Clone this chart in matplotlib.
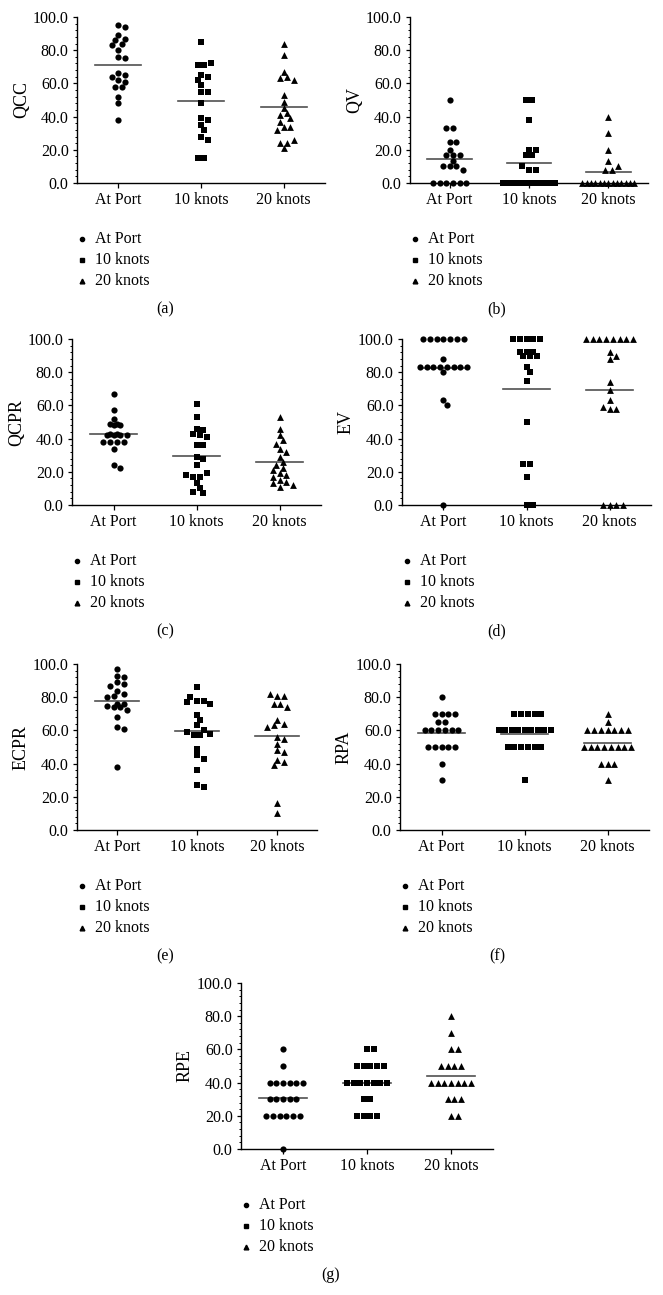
import numpy as np
import matplotlib
matplotlib.use("Agg")
import matplotlib.pyplot as plt
from matplotlib.lines import Line2D
from matplotlib.ticker import MultipleLocator, FormatStrFormatter

plt.rcParams["font.family"] = ["Liberation Serif", "DejaVu Serif"]

groups = ["At Port", "10 knots", "20 knots"]

# (a) QCC
qcc_port = [95, 94, 89, 86, 87, 83, 84, 80, 75, 76, 65, 64, 66, 61, 62, 58, 58, 52, 48, 38]
qcc_10 = [85, 71, 71, 72, 65, 62, 64, 59, 55, 55, 48, 38, 39, 35, 32, 28, 26, 15, 15]
qcc_20 = [84, 77, 67, 64, 62, 63, 53, 49, 45, 42, 41, 39, 37, 34, 34, 32, 26, 24, 24, 21]

# (b) QV
qv_port = [50, 33, 33, 25, 25, 20, 17, 17, 17, 13, 10, 10, 10, 8, 0, 0, 0, 0, 0, 0]
qv_10 = [50, 50, 38, 20, 20, 17, 17, 10, 8, 8, 0, 0, 0, 0, 0, 0, 0, 0, 0, 0]
qv_20 = [40, 30, 20, 13, 10, 8, 8, 0, 0, 0, 0, 0, 0, 0, 0, 0, 0, 0, 0, 0]

# (c) QCPR
qcpr_port = [67, 57, 49, 48, 48, 49, 52, 43, 42, 42, 43, 42, 42, 38, 38, 38, 38, 34, 24, 22]
qcpr_10 = [61, 53, 45, 46, 43, 41, 42, 36, 36, 29, 28, 24, 19, 18, 17, 17, 13, 10, 8, 7]
qcpr_20 = [53, 46, 42, 39, 37, 34, 32, 29, 26, 24, 22, 21, 19, 18, 17, 15, 14, 13, 12, 11]

# (d) EV
ev_port = [100] * 7 + [88] + [83] * 8 + [80, 63, 60, 0]
ev_10 = [100] * 5 + [92, 92, 92, 90, 90, 90, 83, 80, 75, 50, 25, 25, 17, 0, 0]
ev_20 = [100] * 8 + [90, 92, 88, 74, 69, 63, 58, 58, 59, 0, 0, 0, 0]

# (e) ECPR
ecpr_port = [97, 93, 92, 88, 87, 89, 84, 81, 82, 80, 76, 76, 75, 74, 74, 72, 68, 62, 61, 38]
ecpr_10 = [86, 78, 77, 76, 78, 80, 69, 66, 63, 60, 59, 57, 57, 58, 49, 45, 43, 36, 27, 26]
ecpr_20 = [81, 81, 82, 76, 76, 74, 66, 63, 62, 64, 56, 55, 52, 48, 47, 42, 41, 39, 16, 10]

# (f) RPA
rpa_port = [80] + [70] * 4 + [65] * 2 + [60] * 6 + [50] * 5 + [40, 30]
rpa_10 = [70] * 5 + [60] * 9 + [50] * 6 + [30]
rpa_20 = [70, 65] + [60] * 7 + [50] * 8 + [40] * 3 + [30]

# (g) RPE
rpe_port = [60, 50] + [40] * 6 + [30] * 5 + [20] * 6 + [0]
rpe_10 = [60] * 2 + [50] * 5 + [40] * 7 + [30] * 2 + [20] * 4
rpe_20 = [80, 70, 60, 60, 50, 50, 50, 50] + [40] * 7 + [30] * 3 + [20] * 2

markers = ["o", "s", "^"]
sizes = [20, 17, 24]
leg_sizes = [3.0, 3.2, 3.4]

# ylabel, series, left px, width px, top px, tag, tag x
panels = [
    ("QCC", [qcc_port, qcc_10, qcc_20], 77, 248, 17, "(a)", 165),
    ("QV", [qv_port, qv_10, qv_20], 410, 238, 17, "(b)", 497),
    ("QCPR", [qcpr_port, qcpr_10, qcpr_20], 72, 249, 339, "(c)", 165),
    ("EV", [ev_port, ev_10, ev_20], 402, 249, 339, "(d)", 497),
    ("ECPR", [ecpr_port, ecpr_10, ecpr_20], 77, 240, 664, "(e)", 165),
    ("RPA", [rpa_port, rpa_10, rpa_20], 400, 249, 664, "(f)", 497),
    ("RPE", [rpe_port, rpe_10, rpe_20], 241, 252, 983, "(g)", 331),
]

W, H = 663, 1295
AX_H = 166
FS = 11.5


def swarm(vals, ppu_x, ppu_y, d=6.7, max_half=26):
    # rows of equal values are spread centred (squeezed if long) and
    # nudged by half a step against each other, the rest go beeswarm-style
    vals = np.asarray(vals, float)
    y = vals * ppu_y
    offs = np.full(len(y), np.nan)
    placed = []
    lim = 0.8 * d
    shifts = [0.0]
    for k in range(1, 40):
        shifts += [k * d / 2, -k * d / 2]

    def gap(x, yy):
        if not placed:
            return np.inf
        return min(np.hypot(x - px, yy - py) for px, py in placed)

    uniq, counts = np.unique(vals, return_counts=True)
    for j in np.argsort(-counts, kind="stable"):
        v, n = uniq[j], counts[j]
        if n < 2:
            continue
        step = min(d, 2 * max_half / (n - 1))
        idx = np.where(vals == v)[0]
        base = [(k - (n - 1) / 2) * step for k in range(n)]
        best = max([0.0, step / 2, -step / 2],
                   key=lambda s: min(gap(b + s, v * ppu_y) for b in base) - abs(s) * 0.01)
        for i, b in zip(idx, base):
            offs[i] = b + best
            placed.append((offs[i], y[i]))
    for i in np.argsort(-y, kind="stable"):
        if not np.isnan(offs[i]):
            continue
        for c in shifts:
            if gap(c, y[i]) >= lim:
                break
        placed.append((c, y[i]))
        offs[i] = c
    return offs / ppu_x


fig = plt.figure(figsize=(W / 100, H / 100), dpi=100)

for ylab, series, left, width, top, tag, tag_x in panels:
    ax = fig.add_axes([left / W, 1 - (top + AX_H) / H, width / W, AX_H / H])
    for i, vals in enumerate(series):
        xo = swarm(vals, width / 3, AX_H / 100)
        ax.scatter(i + xo, vals, marker=markers[i], s=sizes[i], c="black",
                   linewidths=0, clip_on=False, zorder=3)
        m = np.mean(vals)
        ax.plot([i - 0.28, i + 0.28], [m, m], color="#505050", lw=1.2, zorder=2)

    ax.set_xlim(-0.5, 2.5)
    ax.set_ylim(0, 100)
    ax.set_xticks(range(3))
    ax.set_xticklabels(groups, fontsize=FS)
    ax.yaxis.set_major_locator(MultipleLocator(20))
    ax.yaxis.set_minor_locator(MultipleLocator(4))
    ax.yaxis.set_major_formatter(FormatStrFormatter("%.1f"))
    for t in ax.get_yticklabels():
        t.set_fontsize(FS)
    ax.tick_params(axis="y", which="major", length=3, width=0.9, pad=3)
    ax.tick_params(axis="y", which="minor", length=1.6, width=0.7)
    ax.tick_params(axis="x", length=3.5, width=0.9, pad=3)
    ax.set_ylabel(ylab, fontsize=13, labelpad=2)
    for side in ["top", "right"]:
        ax.spines[side].set_visible(False)
    for side in ["left", "bottom"]:
        ax.spines[side].set_linewidth(1.0)

    bottom = top + AX_H
    for j in range(3):
        yy = 1 - (bottom + 56 + 21 * j) / H
        fig.add_artist(Line2D([(left + 5) / W], [yy], marker=markers[j],
                              markersize=leg_sizes[j], color="black",
                              linestyle="none", transform=fig.transFigure))
        fig.text((left + 18) / W, yy, groups[j], ha="left", va="center", fontsize=FS)
    fig.text(tag_x / W, 1 - (bottom + 126) / H, tag, ha="center", va="center", fontsize=FS)

fig.savefig("out.png", dpi=100)
